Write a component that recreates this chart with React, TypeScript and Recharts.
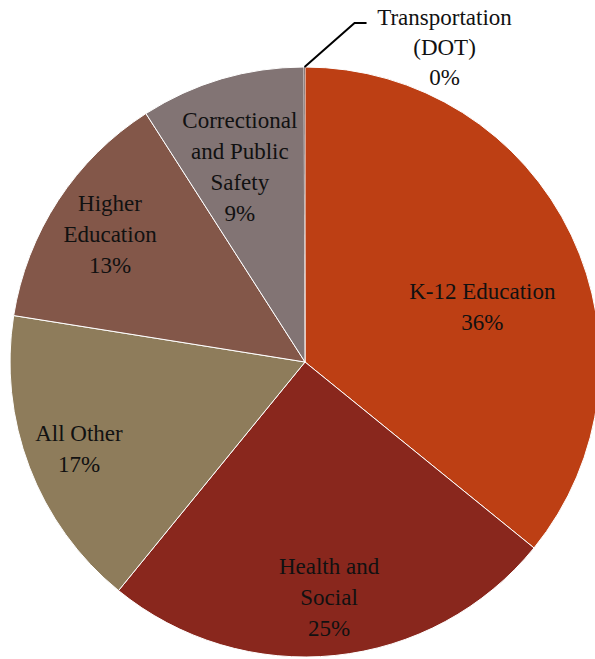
import React from "react";
import { PieChart, Pie, Cell } from "recharts";

const CATEGORIES = [
  "K-12 Education",
  "Health and\nSocial",
  "All Other",
  "Higher\nEducation",
  "Correctional\nand Public\nSafety",
  "Transportation\n(DOT)",
];
const SHARES = [35.8, 25.0, 16.6, 13.4, 9.0, 0.05];
const COLORS = ["#BD3F14", "#89271D", "#8E7C5B", "#835749", "#827474", "#827474"];

// label placement: fraction of the radius and a clockwise nudge in degrees
const LABEL_SPOTS = [
  { r: 0.63, shift: 8 },
  { r: 0.8, shift: 0 },
  { r: 0.82, shift: 0 },
  { r: 0.79, shift: 0 },
  { r: 0.7, shift: -2 },
];

const data = CATEGORIES.map((name, i) => ({ name, value: SHARES[i] }));

const RAD = Math.PI / 180;
const FONT = "'Liberation Serif', 'DejaVu Serif', serif";
const FONT_SIZE = 23;
const LINE_H = 31;

const renderLabel = (props: any) => {
  const { cx, cy, midAngle, outerRadius, percent, index, name } = props;
  const lines: string[] = [...String(name).split("\n"), `${Math.round(percent * 100)}%`];

  if (index >= LABEL_SPOTS.length) {
    // tiny slice: leader line out to the top right
    const ex = cx + outerRadius * Math.cos(-midAngle * RAD);
    const ey = cy + outerRadius * Math.sin(-midAngle * RAD);
    const tx = ex + 140;
    const ty = ey - 50;
    return (
      <g key={`lbl-${index}`}>
        <polyline
          points={`${ex},${ey} ${ex + 50},${ey - 44} ${ex + 62},${ey - 44}`}
          fill="none"
          stroke="#000"
          strokeWidth={2}
        />
        <text x={tx} y={ty} textAnchor="middle" dominantBaseline="central" fontFamily={FONT} fontSize={FONT_SIZE} fill="#111">
          {lines.map((l, i) => (
            <tspan key={i} x={tx} dy={i === 0 ? 0 : LINE_H - 1}>
              {l}
            </tspan>
          ))}
        </text>
      </g>
    );
  }

  const spot = LABEL_SPOTS[index];
  const cw = 90 - midAngle + spot.shift;
  const r = outerRadius * spot.r;
  const x = cx + r * Math.sin(cw * RAD);
  const y = cy - r * Math.cos(cw * RAD);
  const y0 = y - ((lines.length - 1) * LINE_H) / 2;
  return (
    <text key={`lbl-${index}`} x={x} y={y0} textAnchor="middle" dominantBaseline="central" fontFamily={FONT} fontSize={FONT_SIZE} fill="#111">
      {lines.map((l, i) => (
        <tspan key={i} x={x} dy={i === 0 ? 0 : LINE_H}>
          {l}
        </tspan>
      ))}
    </text>
  );
};

export default function App() {
  return (
    <div style={{ position: "absolute", left: 0, top: 0, width: 595, height: 659, background: "#fff" }}>
      <PieChart width={595} height={659} margin={{ top: 0, right: 0, bottom: 0, left: 0 }}>
        <Pie
          data={data}
          dataKey="value"
          nameKey="name"
          cx={305}
          cy={362}
          outerRadius={295}
          startAngle={90}
          endAngle={-270}
          stroke="#fff"
          strokeWidth={1}
          label={renderLabel}
          labelLine={false}
          isAnimationActive={false}
        >
          {data.map((entry, index) => (
            <Cell
              key={`cell-${index}`}
              fill={COLORS[index % COLORS.length]}
              stroke={index === data.length - 1 ? "none" : "#fff"}
            />
          ))}
        </Pie>
      </PieChart>
    </div>
  );
}
